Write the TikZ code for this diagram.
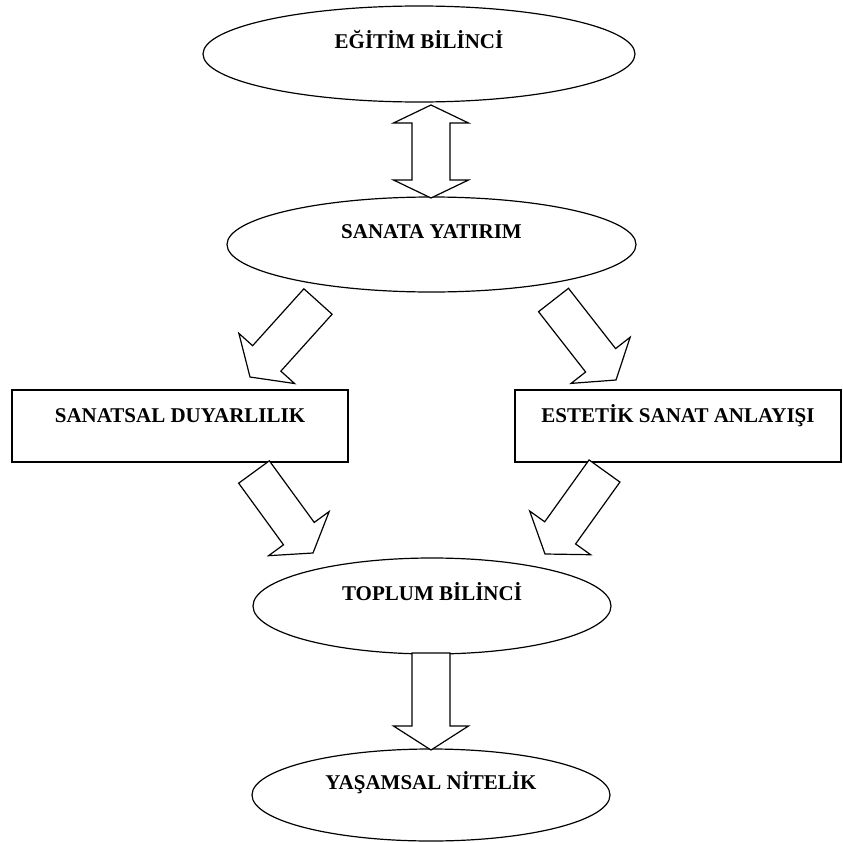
\documentclass[tikz,border=0pt]{standalone}
\usepackage{fontspec}
\setmainfont{Liberation Serif}
\usetikzlibrary{shapes.geometric,calc}

% block arrow widths (half widths)
\newcommand{\shaftw}{19bp}
\newcommand{\headw}{37.5bp}
% \blockarrow[head length]{tail}{tip}
\newcommand{\blockarrow}[3][24bp]{%
  \coordinate (ba-h) at ($(#3)!#1!(#2)$);
  \draw[fat] ($(#2)!\shaftw!90:(#3)$) -- ($(ba-h)!\shaftw!90:(#3)$)
    -- ($(ba-h)!\headw!90:(#3)$) -- (#3)
    -- ($(ba-h)!\headw!-90:(#3)$) -- ($(ba-h)!\shaftw!-90:(#3)$)
    -- ($(#2)!\shaftw!-90:(#3)$) -- cycle;
}
% \dblockarrow[head length]{end a}{end b}
\newcommand{\dblockarrow}[3][18bp]{%
  \coordinate (ba-a) at ($(#2)!#1!(#3)$);
  \coordinate (ba-b) at ($(#3)!#1!(#2)$);
  \draw[fat] (#2) -- ($(ba-a)!\headw!-90:(#3)$) -- ($(ba-a)!\shaftw!-90:(#3)$)
    -- ($(ba-b)!\shaftw!-90:(#3)$) -- ($(ba-b)!\headw!-90:(#3)$) -- (#3)
    -- ($(ba-b)!\headw!90:(#3)$) -- ($(ba-b)!\shaftw!90:(#3)$)
    -- ($(ba-a)!\shaftw!90:(#3)$) -- ($(ba-a)!\headw!90:(#3)$) -- cycle;
}

\begin{document}
\begin{tikzpicture}[x=1bp, y=-1bp,
    label/.style={font=\fontsize{21bp}{24bp}\selectfont\bfseries, text height=15bp, inner sep=0pt},
    oval/.style={label, draw, ellipse, line width=1.2bp, text depth=27bp},
    panel/.style={label, draw, rectangle, line width=1.2bp, text depth=23bp, minimum width=336bp, minimum height=72bp},
    fat/.style={draw, line width=1.2bp, line join=miter, fill=white}
]
    \useasboundingbox (0,0) rectangle (843,843);

    % ovals
    \node[oval, minimum width=432bp, minimum height=96bp] (eb) at (419,54) {EĞİTİM BİLİNCİ};
    \node[oval, minimum width=409bp, minimum height=95bp] (sy) at (431.5,244.5) {SANATA YATIRIM};
    \node[oval, minimum width=358bp, minimum height=96bp] (tb) at (432,606) {TOPLUM BİLİNCİ};
    \node[oval, minimum width=358bp, minimum height=92bp] (yn) at (431,795) {YAŞAMSAL NİTELİK};

    % boxes
    \node[panel] (sd) at (180,426) {SANATSAL DUYARLILIK};
    \node[panel, minimum width=326bp] (es) at (678,426) {ESTETİK SANAT ANLAYIŞI};

    % arrow ends
    \coordinate (eb-out) at (431,105);
    \coordinate (sy-in)  at (431,198);
    \coordinate (sy-l)   at (318,301.5);
    \coordinate (sd-in)  at (250,377);
    \coordinate (sy-r)   at (553.5,300);
    \coordinate (es-in)  at (616,380);
    \coordinate (sd-out) at (254,472);
    \coordinate (es-out) at (604.5,471);
    \coordinate (tb-l)   at (313,553);
    \coordinate (tb-r)   at (545,554);
    \coordinate (tb-out) at (431,653);
    \coordinate (yn-in)  at (431,750);

    \dblockarrow{eb-out}{sy-in}
    \blockarrow[25bp]{sy-l}{sd-in}
    \blockarrow[25bp]{sy-r}{es-in}
    \blockarrow{sd-out}{tb-l}
    \blockarrow[26bp]{es-out}{tb-r}
    \blockarrow{tb-out}{yn-in}
\end{tikzpicture}
\end{document}
